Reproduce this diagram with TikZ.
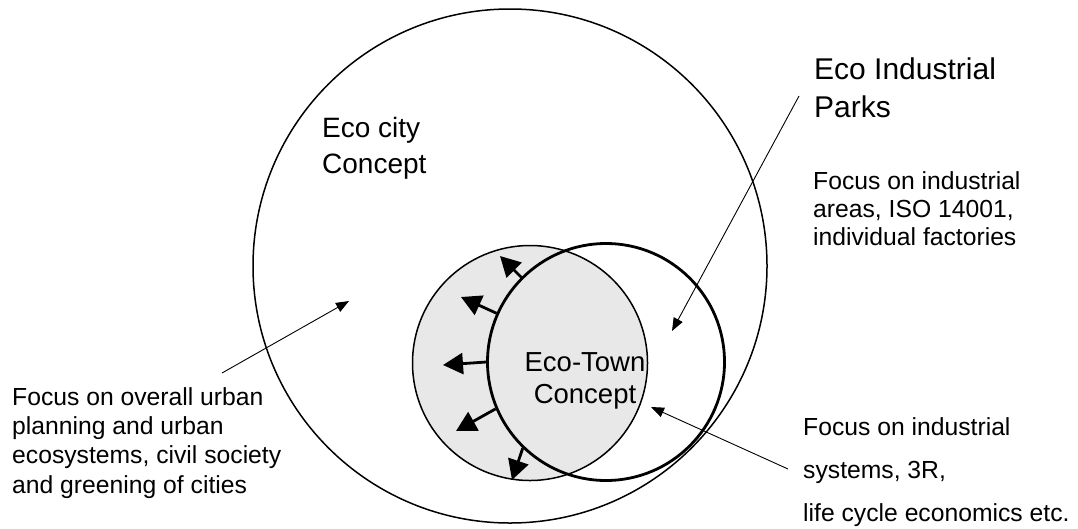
\documentclass[tikz,border=0pt]{standalone}
\usepackage{fontspec}
\setmainfont{Liberation Sans}
\usetikzlibrary{arrows.meta}
\definecolor{ltgray}{RGB}{232,232,232}
\begin{document}
\begin{tikzpicture}[x=1pt,y=-1pt,
  ring/.style={circle,draw=black,inner sep=0pt,line width=1.5pt},
  boldring/.style={circle,draw=black,inner sep=0pt,line width=2.8pt},
  lbl/.style={inner sep=0pt,align=left,anchor=base west},
  pointer/.style={line width=0.9pt,-{Triangle[length=13pt,width=10pt]}},
  growarrow/.style={line width=2.8pt,-{Triangle[length=20pt,width=21pt]}},
  bigfont/.style={font=\fontsize{28}{36}\selectfont},
  midfont/.style={font=\fontsize{24.7}{29.2}\selectfont}]
\useasboundingbox (0,0) rectangle (1078,528);
% circles
\node[ring,minimum size=514pt] (city) at (510,266) {};
\node[ring,fill=ltgray,minimum size=235pt] (town) at (530,363) {};
\node[inner sep=0pt,align=center,font=\fontsize{27.5}{32}\selectfont,anchor=base] (townlbl) at (585,403) {Eco-Town\\Concept};
\node[boldring,minimum size=237pt] (eip) at (606,362) {};
% growth arrows
\coordinate (g1) at (500,256);
\coordinate (g2) at (461,297);
\coordinate (g3) at (443,365);
\coordinate (g4) at (456,431);
\coordinate (g5) at (512,480);
\draw[growarrow] (eip.135) -- (g1);
\draw[growarrow] (eip.156) -- (g2);
\draw[growarrow] (eip.180) -- (g3);
\draw[growarrow] (eip.203) -- (g4);
\draw[growarrow] (eip.226) -- (g5);
% labels
\node[lbl,bigfont] (citylbl) at (322,173) {Eco city\\Concept};
\node[lbl,font=\fontsize{30}{38}\selectfont] (eiplbl) at (814,117) {Eco Industrial\\Parks};
\node[lbl,font=\fontsize{24.7}{28}\selectfont] (eipfocus) at (813,245) {Focus on industrial\\areas, ISO 14001,\\individual factories};
\node[lbl,midfont] (cityfocus) at (12,493) {Focus on overall urban\\planning and urban\\ecosystems, civil society\\and greening of cities};
\node[lbl,font=\fontsize{24.7}{43}\selectfont] (townfocus) at (803,521) {Focus on industrial\\systems, 3R,\\life cycle economics etc.};
% pointers
\coordinate (p1s) at (222,373);
\coordinate (p1e) at (349,301);
\coordinate (p2s) at (799,96);
\coordinate (p2e) at (672,331);
\coordinate (p3s) at (788,469);
\coordinate (p3e) at (651,407);
\draw[pointer] (p1s) -- (p1e);
\draw[pointer] (p2s) -- (p2e);
\draw[pointer] (p3s) -- (p3e);
\end{tikzpicture}
\end{document}
